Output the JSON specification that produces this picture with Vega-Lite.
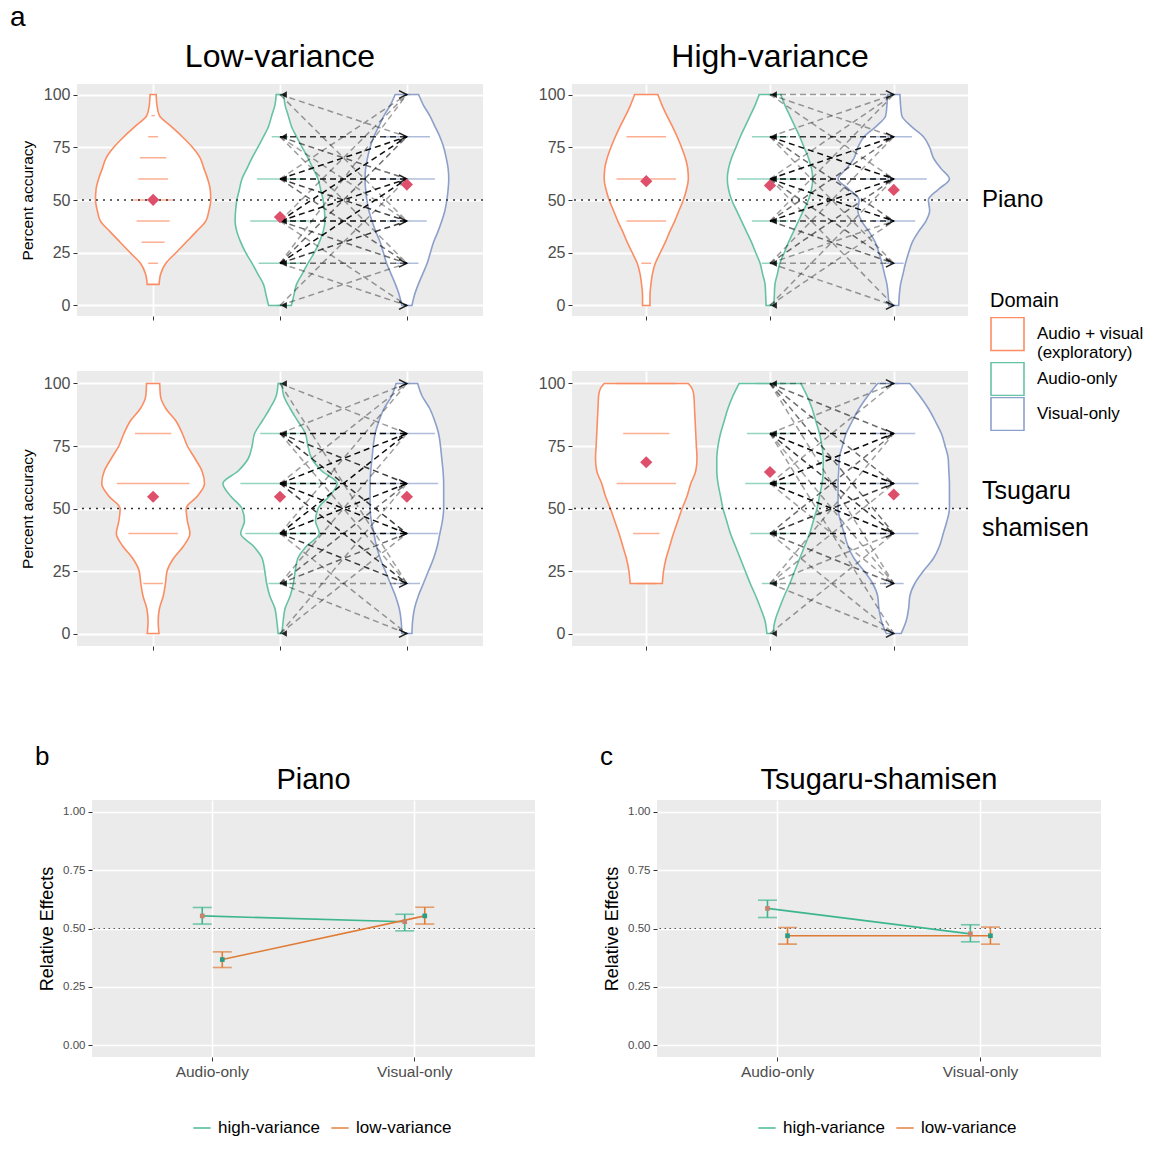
{
"$schema": "https://vega.github.io/schema/vega-lite/v6.json",
"padding": {"left": 10, "top": 4, "right": 0, "bottom": 0},
"datasets": {
"violin": [
{"p":"LP","d":"Audio + visual (exploratory)","y":10,"lo":0.953,"hi":1.047},
{"p":"LP","d":"Audio + visual (exploratory)","y":15,"lo":0.94,"hi":1.06},
{"p":"LP","d":"Audio + visual (exploratory)","y":20,"lo":0.9,"hi":1.1},
{"p":"LP","d":"Audio + visual (exploratory)","y":25,"lo":0.82,"hi":1.18},
{"p":"LP","d":"Audio + visual (exploratory)","y":30,"lo":0.74,"hi":1.26},
{"p":"LP","d":"Audio + visual (exploratory)","y":35,"lo":0.66,"hi":1.34},
{"p":"LP","d":"Audio + visual (exploratory)","y":40,"lo":0.585,"hi":1.415},
{"p":"LP","d":"Audio + visual (exploratory)","y":45,"lo":0.56,"hi":1.44},
{"p":"LP","d":"Audio + visual (exploratory)","y":50,"lo":0.546,"hi":1.454},
{"p":"LP","d":"Audio + visual (exploratory)","y":55,"lo":0.55,"hi":1.45},
{"p":"LP","d":"Audio + visual (exploratory)","y":60,"lo":0.57,"hi":1.43},
{"p":"LP","d":"Audio + visual (exploratory)","y":65,"lo":0.6,"hi":1.4},
{"p":"LP","d":"Audio + visual (exploratory)","y":70,"lo":0.63,"hi":1.37},
{"p":"LP","d":"Audio + visual (exploratory)","y":75,"lo":0.69,"hi":1.31},
{"p":"LP","d":"Audio + visual (exploratory)","y":80,"lo":0.77,"hi":1.23},
{"p":"LP","d":"Audio + visual (exploratory)","y":85,"lo":0.86,"hi":1.14},
{"p":"LP","d":"Audio + visual (exploratory)","y":90,"lo":0.95,"hi":1.05},
{"p":"LP","d":"Audio + visual (exploratory)","y":95,"lo":0.97,"hi":1.03},
{"p":"LP","d":"Audio + visual (exploratory)","y":100,"lo":0.976,"hi":1.024},
{"p":"LP","d":"Audio-only","y":0,"lo":1.91,"hi":2.09},
{"p":"LP","d":"Audio-only","y":5,"lo":1.89,"hi":2.11},
{"p":"LP","d":"Audio-only","y":10,"lo":1.87,"hi":2.13},
{"p":"LP","d":"Audio-only","y":15,"lo":1.825,"hi":2.175},
{"p":"LP","d":"Audio-only","y":20,"lo":1.78,"hi":2.22},
{"p":"LP","d":"Audio-only","y":25,"lo":1.73,"hi":2.27},
{"p":"LP","d":"Audio-only","y":30,"lo":1.69,"hi":2.31},
{"p":"LP","d":"Audio-only","y":35,"lo":1.66,"hi":2.34},
{"p":"LP","d":"Audio-only","y":40,"lo":1.646,"hi":2.354},
{"p":"LP","d":"Audio-only","y":45,"lo":1.65,"hi":2.35},
{"p":"LP","d":"Audio-only","y":50,"lo":1.66,"hi":2.34},
{"p":"LP","d":"Audio-only","y":55,"lo":1.68,"hi":2.32},
{"p":"LP","d":"Audio-only","y":60,"lo":1.7,"hi":2.3},
{"p":"LP","d":"Audio-only","y":65,"lo":1.74,"hi":2.26},
{"p":"LP","d":"Audio-only","y":70,"lo":1.78,"hi":2.22},
{"p":"LP","d":"Audio-only","y":75,"lo":1.825,"hi":2.175},
{"p":"LP","d":"Audio-only","y":80,"lo":1.87,"hi":2.13},
{"p":"LP","d":"Audio-only","y":85,"lo":1.91,"hi":2.09},
{"p":"LP","d":"Audio-only","y":90,"lo":1.935,"hi":2.065},
{"p":"LP","d":"Audio-only","y":95,"lo":1.96,"hi":2.04},
{"p":"LP","d":"Audio-only","y":100,"lo":1.97,"hi":2.03},
{"p":"LP","d":"Visual-only","y":0,"lo":2.96,"hi":3.04},
{"p":"LP","d":"Visual-only","y":5,"lo":2.94,"hi":3.06},
{"p":"LP","d":"Visual-only","y":10,"lo":2.91,"hi":3.09},
{"p":"LP","d":"Visual-only","y":15,"lo":2.875,"hi":3.125},
{"p":"LP","d":"Visual-only","y":20,"lo":2.84,"hi":3.16},
{"p":"LP","d":"Visual-only","y":25,"lo":2.815,"hi":3.185},
{"p":"LP","d":"Visual-only","y":30,"lo":2.79,"hi":3.21},
{"p":"LP","d":"Visual-only","y":35,"lo":2.755,"hi":3.245},
{"p":"LP","d":"Visual-only","y":40,"lo":2.725,"hi":3.275},
{"p":"LP","d":"Visual-only","y":45,"lo":2.7,"hi":3.3},
{"p":"LP","d":"Visual-only","y":50,"lo":2.685,"hi":3.315},
{"p":"LP","d":"Visual-only","y":55,"lo":2.675,"hi":3.325},
{"p":"LP","d":"Visual-only","y":60,"lo":2.67,"hi":3.33},
{"p":"LP","d":"Visual-only","y":65,"lo":2.675,"hi":3.325},
{"p":"LP","d":"Visual-only","y":70,"lo":2.69,"hi":3.31},
{"p":"LP","d":"Visual-only","y":75,"lo":2.71,"hi":3.29},
{"p":"LP","d":"Visual-only","y":80,"lo":2.74,"hi":3.26},
{"p":"LP","d":"Visual-only","y":85,"lo":2.78,"hi":3.22},
{"p":"LP","d":"Visual-only","y":90,"lo":2.82,"hi":3.18},
{"p":"LP","d":"Visual-only","y":95,"lo":2.87,"hi":3.13},
{"p":"LP","d":"Visual-only","y":100,"lo":2.908,"hi":3.092},
{"p":"HP","d":"Audio + visual (exploratory)","y":0,"lo":0.97,"hi":1.03},
{"p":"HP","d":"Audio + visual (exploratory)","y":5,"lo":0.97,"hi":1.03},
{"p":"HP","d":"Audio + visual (exploratory)","y":10,"lo":0.962,"hi":1.038},
{"p":"HP","d":"Audio + visual (exploratory)","y":15,"lo":0.95,"hi":1.05},
{"p":"HP","d":"Audio + visual (exploratory)","y":20,"lo":0.927,"hi":1.073},
{"p":"HP","d":"Audio + visual (exploratory)","y":25,"lo":0.887,"hi":1.113},
{"p":"HP","d":"Audio + visual (exploratory)","y":30,"lo":0.846,"hi":1.154},
{"p":"HP","d":"Audio + visual (exploratory)","y":35,"lo":0.81,"hi":1.19},
{"p":"HP","d":"Audio + visual (exploratory)","y":40,"lo":0.77,"hi":1.23},
{"p":"HP","d":"Audio + visual (exploratory)","y":45,"lo":0.735,"hi":1.265},
{"p":"HP","d":"Audio + visual (exploratory)","y":50,"lo":0.7,"hi":1.3},
{"p":"HP","d":"Audio + visual (exploratory)","y":55,"lo":0.675,"hi":1.325},
{"p":"HP","d":"Audio + visual (exploratory)","y":60,"lo":0.66,"hi":1.34},
{"p":"HP","d":"Audio + visual (exploratory)","y":65,"lo":0.665,"hi":1.335},
{"p":"HP","d":"Audio + visual (exploratory)","y":70,"lo":0.685,"hi":1.315},
{"p":"HP","d":"Audio + visual (exploratory)","y":75,"lo":0.715,"hi":1.285},
{"p":"HP","d":"Audio + visual (exploratory)","y":80,"lo":0.75,"hi":1.25},
{"p":"HP","d":"Audio + visual (exploratory)","y":85,"lo":0.79,"hi":1.21},
{"p":"HP","d":"Audio + visual (exploratory)","y":90,"lo":0.833,"hi":1.167},
{"p":"HP","d":"Audio + visual (exploratory)","y":95,"lo":0.873,"hi":1.127},
{"p":"HP","d":"Audio + visual (exploratory)","y":100,"lo":0.906,"hi":1.094},
{"p":"HP","d":"Audio-only","y":0,"lo":1.968,"hi":2.032},
{"p":"HP","d":"Audio-only","y":5,"lo":1.965,"hi":2.035},
{"p":"HP","d":"Audio-only","y":10,"lo":1.96,"hi":2.04},
{"p":"HP","d":"Audio-only","y":15,"lo":1.94,"hi":2.06},
{"p":"HP","d":"Audio-only","y":20,"lo":1.92,"hi":2.08},
{"p":"HP","d":"Audio-only","y":25,"lo":1.885,"hi":2.115},
{"p":"HP","d":"Audio-only","y":30,"lo":1.85,"hi":2.15},
{"p":"HP","d":"Audio-only","y":35,"lo":1.81,"hi":2.19},
{"p":"HP","d":"Audio-only","y":40,"lo":1.77,"hi":2.23},
{"p":"HP","d":"Audio-only","y":45,"lo":1.73,"hi":2.27},
{"p":"HP","d":"Audio-only","y":50,"lo":1.69,"hi":2.31},
{"p":"HP","d":"Audio-only","y":55,"lo":1.665,"hi":2.335},
{"p":"HP","d":"Audio-only","y":60,"lo":1.655,"hi":2.345},
{"p":"HP","d":"Audio-only","y":65,"lo":1.665,"hi":2.335},
{"p":"HP","d":"Audio-only","y":70,"lo":1.69,"hi":2.31},
{"p":"HP","d":"Audio-only","y":75,"lo":1.725,"hi":2.275},
{"p":"HP","d":"Audio-only","y":80,"lo":1.76,"hi":2.24},
{"p":"HP","d":"Audio-only","y":85,"lo":1.8,"hi":2.2},
{"p":"HP","d":"Audio-only","y":90,"lo":1.84,"hi":2.16},
{"p":"HP","d":"Audio-only","y":95,"lo":1.88,"hi":2.12},
{"p":"HP","d":"Audio-only","y":100,"lo":1.913,"hi":2.087},
{"p":"HP","d":"Visual-only","y":0,"lo":2.96,"hi":3.04},
{"p":"HP","d":"Visual-only","y":5,"lo":2.955,"hi":3.045},
{"p":"HP","d":"Visual-only","y":10,"lo":2.945,"hi":3.055},
{"p":"HP","d":"Visual-only","y":15,"lo":2.925,"hi":3.075},
{"p":"HP","d":"Visual-only","y":20,"lo":2.905,"hi":3.095},
{"p":"HP","d":"Visual-only","y":25,"lo":2.88,"hi":3.12},
{"p":"HP","d":"Visual-only","y":30,"lo":2.85,"hi":3.15},
{"p":"HP","d":"Visual-only","y":35,"lo":2.8,"hi":3.2},
{"p":"HP","d":"Visual-only","y":40,"lo":2.74,"hi":3.26},
{"p":"HP","d":"Visual-only","y":45,"lo":2.71,"hi":3.29},
{"p":"HP","d":"Visual-only","y":50,"lo":2.72,"hi":3.28},
{"p":"HP","d":"Visual-only","y":55,"lo":2.64,"hi":3.36},
{"p":"HP","d":"Visual-only","y":60,"lo":2.55,"hi":3.45},
{"p":"HP","d":"Visual-only","y":65,"lo":2.62,"hi":3.38},
{"p":"HP","d":"Visual-only","y":70,"lo":2.68,"hi":3.32},
{"p":"HP","d":"Visual-only","y":75,"lo":2.71,"hi":3.29},
{"p":"HP","d":"Visual-only","y":80,"lo":2.76,"hi":3.24},
{"p":"HP","d":"Visual-only","y":85,"lo":2.86,"hi":3.14},
{"p":"HP","d":"Visual-only","y":90,"lo":2.935,"hi":3.065},
{"p":"HP","d":"Visual-only","y":95,"lo":2.945,"hi":3.055},
{"p":"HP","d":"Visual-only","y":100,"lo":2.95,"hi":3.05},
{"p":"LT","d":"Audio + visual (exploratory)","y":0,"lo":0.954,"hi":1.046},
{"p":"LT","d":"Audio + visual (exploratory)","y":5,"lo":0.96,"hi":1.04},
{"p":"LT","d":"Audio + visual (exploratory)","y":10,"lo":0.95,"hi":1.05},
{"p":"LT","d":"Audio + visual (exploratory)","y":15,"lo":0.92,"hi":1.08},
{"p":"LT","d":"Audio + visual (exploratory)","y":20,"lo":0.903,"hi":1.097},
{"p":"LT","d":"Audio + visual (exploratory)","y":25,"lo":0.89,"hi":1.11},
{"p":"LT","d":"Audio + visual (exploratory)","y":30,"lo":0.84,"hi":1.16},
{"p":"LT","d":"Audio + visual (exploratory)","y":35,"lo":0.76,"hi":1.24},
{"p":"LT","d":"Audio + visual (exploratory)","y":40,"lo":0.71,"hi":1.29},
{"p":"LT","d":"Audio + visual (exploratory)","y":45,"lo":0.73,"hi":1.27},
{"p":"LT","d":"Audio + visual (exploratory)","y":50,"lo":0.74,"hi":1.26},
{"p":"LT","d":"Audio + visual (exploratory)","y":55,"lo":0.65,"hi":1.35},
{"p":"LT","d":"Audio + visual (exploratory)","y":60,"lo":0.595,"hi":1.405},
{"p":"LT","d":"Audio + visual (exploratory)","y":65,"lo":0.615,"hi":1.385},
{"p":"LT","d":"Audio + visual (exploratory)","y":70,"lo":0.67,"hi":1.33},
{"p":"LT","d":"Audio + visual (exploratory)","y":75,"lo":0.73,"hi":1.27},
{"p":"LT","d":"Audio + visual (exploratory)","y":80,"lo":0.77,"hi":1.23},
{"p":"LT","d":"Audio + visual (exploratory)","y":85,"lo":0.82,"hi":1.18},
{"p":"LT","d":"Audio + visual (exploratory)","y":90,"lo":0.9,"hi":1.1},
{"p":"LT","d":"Audio + visual (exploratory)","y":95,"lo":0.942,"hi":1.058},
{"p":"LT","d":"Audio + visual (exploratory)","y":100,"lo":0.948,"hi":1.052},
{"p":"LT","d":"Audio-only","y":0,"lo":1.985,"hi":2.015},
{"p":"LT","d":"Audio-only","y":5,"lo":1.975,"hi":2.025},
{"p":"LT","d":"Audio-only","y":10,"lo":1.96,"hi":2.04},
{"p":"LT","d":"Audio-only","y":15,"lo":1.92,"hi":2.08},
{"p":"LT","d":"Audio-only","y":20,"lo":1.895,"hi":2.105},
{"p":"LT","d":"Audio-only","y":25,"lo":1.88,"hi":2.12},
{"p":"LT","d":"Audio-only","y":30,"lo":1.86,"hi":2.14},
{"p":"LT","d":"Audio-only","y":35,"lo":1.79,"hi":2.21},
{"p":"LT","d":"Audio-only","y":40,"lo":1.69,"hi":2.31},
{"p":"LT","d":"Audio-only","y":45,"lo":1.72,"hi":2.28},
{"p":"LT","d":"Audio-only","y":50,"lo":1.7,"hi":2.3},
{"p":"LT","d":"Audio-only","y":55,"lo":1.61,"hi":2.39},
{"p":"LT","d":"Audio-only","y":60,"lo":1.55,"hi":2.45},
{"p":"LT","d":"Audio-only","y":65,"lo":1.67,"hi":2.33},
{"p":"LT","d":"Audio-only","y":70,"lo":1.75,"hi":2.25},
{"p":"LT","d":"Audio-only","y":75,"lo":1.78,"hi":2.22},
{"p":"LT","d":"Audio-only","y":80,"lo":1.8,"hi":2.2},
{"p":"LT","d":"Audio-only","y":85,"lo":1.86,"hi":2.14},
{"p":"LT","d":"Audio-only","y":90,"lo":1.92,"hi":2.08},
{"p":"LT","d":"Audio-only","y":95,"lo":1.97,"hi":2.03},
{"p":"LT","d":"Audio-only","y":100,"lo":1.985,"hi":2.015},
{"p":"LT","d":"Visual-only","y":0,"lo":2.96,"hi":3.04},
{"p":"LT","d":"Visual-only","y":5,"lo":2.955,"hi":3.045},
{"p":"LT","d":"Visual-only","y":10,"lo":2.94,"hi":3.06},
{"p":"LT","d":"Visual-only","y":15,"lo":2.91,"hi":3.09},
{"p":"LT","d":"Visual-only","y":20,"lo":2.87,"hi":3.13},
{"p":"LT","d":"Visual-only","y":25,"lo":2.83,"hi":3.17},
{"p":"LT","d":"Visual-only","y":30,"lo":2.79,"hi":3.21},
{"p":"LT","d":"Visual-only","y":35,"lo":2.76,"hi":3.24},
{"p":"LT","d":"Visual-only","y":40,"lo":2.74,"hi":3.26},
{"p":"LT","d":"Visual-only","y":45,"lo":2.72,"hi":3.28},
{"p":"LT","d":"Visual-only","y":50,"lo":2.71,"hi":3.29},
{"p":"LT","d":"Visual-only","y":55,"lo":2.71,"hi":3.29},
{"p":"LT","d":"Visual-only","y":60,"lo":2.71,"hi":3.29},
{"p":"LT","d":"Visual-only","y":65,"lo":2.715,"hi":3.285},
{"p":"LT","d":"Visual-only","y":70,"lo":2.725,"hi":3.275},
{"p":"LT","d":"Visual-only","y":75,"lo":2.735,"hi":3.265},
{"p":"LT","d":"Visual-only","y":80,"lo":2.75,"hi":3.25},
{"p":"LT","d":"Visual-only","y":85,"lo":2.78,"hi":3.22},
{"p":"LT","d":"Visual-only","y":90,"lo":2.82,"hi":3.18},
{"p":"LT","d":"Visual-only","y":95,"lo":2.88,"hi":3.12},
{"p":"LT","d":"Visual-only","y":100,"lo":2.915,"hi":3.085},
{"p":"HT","d":"Audio + visual (exploratory)","y":20,"lo":0.87,"hi":1.13},
{"p":"HT","d":"Audio + visual (exploratory)","y":25,"lo":0.86,"hi":1.14},
{"p":"HT","d":"Audio + visual (exploratory)","y":30,"lo":0.84,"hi":1.16},
{"p":"HT","d":"Audio + visual (exploratory)","y":35,"lo":0.81,"hi":1.19},
{"p":"HT","d":"Audio + visual (exploratory)","y":40,"lo":0.78,"hi":1.22},
{"p":"HT","d":"Audio + visual (exploratory)","y":45,"lo":0.745,"hi":1.255},
{"p":"HT","d":"Audio + visual (exploratory)","y":50,"lo":0.71,"hi":1.29},
{"p":"HT","d":"Audio + visual (exploratory)","y":55,"lo":0.67,"hi":1.33},
{"p":"HT","d":"Audio + visual (exploratory)","y":60,"lo":0.64,"hi":1.36},
{"p":"HT","d":"Audio + visual (exploratory)","y":65,"lo":0.6,"hi":1.4},
{"p":"HT","d":"Audio + visual (exploratory)","y":70,"lo":0.59,"hi":1.41},
{"p":"HT","d":"Audio + visual (exploratory)","y":75,"lo":0.595,"hi":1.405},
{"p":"HT","d":"Audio + visual (exploratory)","y":80,"lo":0.6,"hi":1.4},
{"p":"HT","d":"Audio + visual (exploratory)","y":85,"lo":0.605,"hi":1.395},
{"p":"HT","d":"Audio + visual (exploratory)","y":90,"lo":0.61,"hi":1.39},
{"p":"HT","d":"Audio + visual (exploratory)","y":95,"lo":0.615,"hi":1.385},
{"p":"HT","d":"Audio + visual (exploratory)","y":98,"lo":0.63,"hi":1.37},
{"p":"HT","d":"Audio + visual (exploratory)","y":100,"lo":0.66,"hi":1.34},
{"p":"HT","d":"Audio-only","y":0,"lo":1.975,"hi":2.025},
{"p":"HT","d":"Audio-only","y":5,"lo":1.96,"hi":2.04},
{"p":"HT","d":"Audio-only","y":10,"lo":1.925,"hi":2.075},
{"p":"HT","d":"Audio-only","y":15,"lo":1.885,"hi":2.115},
{"p":"HT","d":"Audio-only","y":20,"lo":1.84,"hi":2.16},
{"p":"HT","d":"Audio-only","y":25,"lo":1.8,"hi":2.2},
{"p":"HT","d":"Audio-only","y":30,"lo":1.76,"hi":2.24},
{"p":"HT","d":"Audio-only","y":35,"lo":1.72,"hi":2.28},
{"p":"HT","d":"Audio-only","y":40,"lo":1.68,"hi":2.32},
{"p":"HT","d":"Audio-only","y":45,"lo":1.65,"hi":2.35},
{"p":"HT","d":"Audio-only","y":50,"lo":1.62,"hi":2.38},
{"p":"HT","d":"Audio-only","y":55,"lo":1.6,"hi":2.4},
{"p":"HT","d":"Audio-only","y":60,"lo":1.58,"hi":2.42},
{"p":"HT","d":"Audio-only","y":65,"lo":1.57,"hi":2.43},
{"p":"HT","d":"Audio-only","y":70,"lo":1.57,"hi":2.43},
{"p":"HT","d":"Audio-only","y":75,"lo":1.58,"hi":2.42},
{"p":"HT","d":"Audio-only","y":80,"lo":1.6,"hi":2.4},
{"p":"HT","d":"Audio-only","y":85,"lo":1.63,"hi":2.37},
{"p":"HT","d":"Audio-only","y":90,"lo":1.66,"hi":2.34},
{"p":"HT","d":"Audio-only","y":95,"lo":1.7,"hi":2.3},
{"p":"HT","d":"Audio-only","y":100,"lo":1.75,"hi":2.25},
{"p":"HT","d":"Visual-only","y":0,"lo":2.94,"hi":3.06},
{"p":"HT","d":"Visual-only","y":5,"lo":2.9,"hi":3.1},
{"p":"HT","d":"Visual-only","y":10,"lo":2.88,"hi":3.12},
{"p":"HT","d":"Visual-only","y":15,"lo":2.87,"hi":3.13},
{"p":"HT","d":"Visual-only","y":20,"lo":2.83,"hi":3.17},
{"p":"HT","d":"Visual-only","y":25,"lo":2.76,"hi":3.24},
{"p":"HT","d":"Visual-only","y":30,"lo":2.68,"hi":3.32},
{"p":"HT","d":"Visual-only","y":35,"lo":2.63,"hi":3.37},
{"p":"HT","d":"Visual-only","y":40,"lo":2.6,"hi":3.4},
{"p":"HT","d":"Visual-only","y":45,"lo":2.57,"hi":3.43},
{"p":"HT","d":"Visual-only","y":50,"lo":2.55,"hi":3.45},
{"p":"HT","d":"Visual-only","y":55,"lo":2.55,"hi":3.45},
{"p":"HT","d":"Visual-only","y":60,"lo":2.55,"hi":3.45},
{"p":"HT","d":"Visual-only","y":65,"lo":2.555,"hi":3.445},
{"p":"HT","d":"Visual-only","y":70,"lo":2.56,"hi":3.44},
{"p":"HT","d":"Visual-only","y":75,"lo":2.585,"hi":3.415},
{"p":"HT","d":"Visual-only","y":80,"lo":2.615,"hi":3.385},
{"p":"HT","d":"Visual-only","y":85,"lo":2.665,"hi":3.335},
{"p":"HT","d":"Visual-only","y":90,"lo":2.72,"hi":3.28},
{"p":"HT","d":"Visual-only","y":95,"lo":2.79,"hi":3.21},
{"p":"HT","d":"Visual-only","y":100,"lo":2.87,"hi":3.13}
],
"dash": [
{"p":"LP","d":"Audio + visual (exploratory)","y":20,"n":3},
{"p":"LP","d":"Audio + visual (exploratory)","y":30,"n":7},
{"p":"LP","d":"Audio + visual (exploratory)","y":40,"n":10},
{"p":"LP","d":"Audio + visual (exploratory)","y":50,"n":12},
{"p":"LP","d":"Audio + visual (exploratory)","y":60,"n":9},
{"p":"LP","d":"Audio + visual (exploratory)","y":70,"n":8},
{"p":"LP","d":"Audio + visual (exploratory)","y":80,"n":3},
{"p":"LP","d":"Audio + visual (exploratory)","y":90,"n":1},
{"p":"LP","d":"Audio-only","y":0,"n":2},
{"p":"LP","d":"Audio-only","y":20,"n":13},
{"p":"LP","d":"Audio-only","y":40,"n":18},
{"p":"LP","d":"Audio-only","y":60,"n":14},
{"p":"LP","d":"Audio-only","y":80,"n":5},
{"p":"LP","d":"Audio-only","y":100,"n":1},
{"p":"LP","d":"Visual-only","y":0,"n":1},
{"p":"LP","d":"Visual-only","y":20,"n":7},
{"p":"LP","d":"Visual-only","y":40,"n":12},
{"p":"LP","d":"Visual-only","y":60,"n":17},
{"p":"LP","d":"Visual-only","y":80,"n":14},
{"p":"LP","d":"Visual-only","y":100,"n":2},
{"p":"HP","d":"Audio + visual (exploratory)","y":20,"n":3},
{"p":"HP","d":"Audio + visual (exploratory)","y":40,"n":12},
{"p":"HP","d":"Audio + visual (exploratory)","y":60,"n":18},
{"p":"HP","d":"Audio + visual (exploratory)","y":80,"n":12},
{"p":"HP","d":"Audio-only","y":0,"n":1},
{"p":"HP","d":"Audio-only","y":20,"n":5},
{"p":"HP","d":"Audio-only","y":40,"n":11},
{"p":"HP","d":"Audio-only","y":60,"n":20},
{"p":"HP","d":"Audio-only","y":80,"n":11},
{"p":"HP","d":"Audio-only","y":100,"n":1},
{"p":"HP","d":"Visual-only","y":0,"n":1},
{"p":"HP","d":"Visual-only","y":20,"n":6},
{"p":"HP","d":"Visual-only","y":40,"n":13},
{"p":"HP","d":"Visual-only","y":60,"n":20},
{"p":"HP","d":"Visual-only","y":80,"n":11},
{"p":"HP","d":"Visual-only","y":100,"n":1},
{"p":"LT","d":"Audio + visual (exploratory)","y":20,"n":6},
{"p":"LT","d":"Audio + visual (exploratory)","y":40,"n":15},
{"p":"LT","d":"Audio + visual (exploratory)","y":60,"n":22},
{"p":"LT","d":"Audio + visual (exploratory)","y":80,"n":11},
{"p":"LT","d":"Audio-only","y":0,"n":1},
{"p":"LT","d":"Audio-only","y":20,"n":7},
{"p":"LT","d":"Audio-only","y":40,"n":21},
{"p":"LT","d":"Audio-only","y":60,"n":24},
{"p":"LT","d":"Audio-only","y":80,"n":12},
{"p":"LT","d":"Audio-only","y":100,"n":1},
{"p":"LT","d":"Visual-only","y":0,"n":1},
{"p":"LT","d":"Visual-only","y":20,"n":8},
{"p":"LT","d":"Visual-only","y":40,"n":19},
{"p":"LT","d":"Visual-only","y":60,"n":19},
{"p":"LT","d":"Visual-only","y":80,"n":17},
{"p":"LT","d":"Visual-only","y":100,"n":2},
{"p":"HT","d":"Audio + visual (exploratory)","y":20,"n":6},
{"p":"HT","d":"Audio + visual (exploratory)","y":40,"n":8},
{"p":"HT","d":"Audio + visual (exploratory)","y":60,"n":18},
{"p":"HT","d":"Audio + visual (exploratory)","y":80,"n":14},
{"p":"HT","d":"Audio + visual (exploratory)","y":100,"n":18},
{"p":"HT","d":"Audio-only","y":20,"n":5},
{"p":"HT","d":"Audio-only","y":40,"n":12},
{"p":"HT","d":"Audio-only","y":60,"n":15},
{"p":"HT","d":"Audio-only","y":80,"n":14},
{"p":"HT","d":"Audio-only","y":100,"n":8},
{"p":"HT","d":"Visual-only","y":0,"n":1},
{"p":"HT","d":"Visual-only","y":20,"n":6},
{"p":"HT","d":"Visual-only","y":40,"n":15},
{"p":"HT","d":"Visual-only","y":60,"n":15},
{"p":"HT","d":"Visual-only","y":80,"n":13},
{"p":"HT","d":"Visual-only","y":100,"n":3}
],
"means": [
{"p":"LP","d":"Audio + visual (exploratory)","y":50.1},
{"p":"LP","d":"Audio-only","y":41.9},
{"p":"LP","d":"Visual-only","y":57.3},
{"p":"HP","d":"Audio + visual (exploratory)","y":58.9},
{"p":"HP","d":"Audio-only","y":56.9},
{"p":"HP","d":"Visual-only","y":54.8},
{"p":"LT","d":"Audio + visual (exploratory)","y":54.7},
{"p":"LT","d":"Audio-only","y":54.7},
{"p":"LT","d":"Visual-only","y":54.7},
{"p":"HT","d":"Audio + visual (exploratory)","y":68.5},
{"p":"HT","d":"Audio-only","y":64.6},
{"p":"HT","d":"Visual-only","y":55.6}
],
"pairs": [
{"p":"LP","a":0,"v":20,"n":1},{"p":"LP","a":0,"v":60,"n":1},
{"p":"LP","a":20,"v":0,"n":1},{"p":"LP","a":20,"v":20,"n":2},{"p":"LP","a":20,"v":40,"n":3},{"p":"LP","a":20,"v":60,"n":4},{"p":"LP","a":20,"v":80,"n":2},{"p":"LP","a":20,"v":100,"n":1},
{"p":"LP","a":40,"v":0,"n":1},{"p":"LP","a":40,"v":20,"n":2},{"p":"LP","a":40,"v":40,"n":4},{"p":"LP","a":40,"v":60,"n":5},{"p":"LP","a":40,"v":80,"n":5},{"p":"LP","a":40,"v":100,"n":1},
{"p":"LP","a":60,"v":20,"n":2},{"p":"LP","a":60,"v":40,"n":3},{"p":"LP","a":60,"v":60,"n":4},{"p":"LP","a":60,"v":80,"n":4},{"p":"LP","a":60,"v":100,"n":1},
{"p":"LP","a":80,"v":20,"n":1},{"p":"LP","a":80,"v":40,"n":1},{"p":"LP","a":80,"v":60,"n":2},{"p":"LP","a":80,"v":80,"n":3},
{"p":"LP","a":100,"v":40,"n":1},{"p":"LP","a":100,"v":80,"n":1},
{"p":"HP","a":0,"v":40,"n":1},{"p":"HP","a":0,"v":60,"n":1},
{"p":"HP","a":20,"v":0,"n":1},{"p":"HP","a":20,"v":20,"n":1},{"p":"HP","a":20,"v":40,"n":1},{"p":"HP","a":20,"v":60,"n":2},{"p":"HP","a":20,"v":80,"n":1},
{"p":"HP","a":40,"v":20,"n":2},{"p":"HP","a":40,"v":40,"n":3},{"p":"HP","a":40,"v":60,"n":4},{"p":"HP","a":40,"v":80,"n":2},{"p":"HP","a":40,"v":100,"n":1},
{"p":"HP","a":60,"v":0,"n":1},{"p":"HP","a":60,"v":20,"n":2},{"p":"HP","a":60,"v":40,"n":4},{"p":"HP","a":60,"v":60,"n":7},{"p":"HP","a":60,"v":80,"n":4},{"p":"HP","a":60,"v":100,"n":1},
{"p":"HP","a":80,"v":20,"n":1},{"p":"HP","a":80,"v":40,"n":2},{"p":"HP","a":80,"v":60,"n":4},{"p":"HP","a":80,"v":80,"n":3},{"p":"HP","a":80,"v":100,"n":1},
{"p":"HP","a":100,"v":60,"n":1},{"p":"HP","a":100,"v":80,"n":1},{"p":"HP","a":100,"v":100,"n":1},
{"p":"LT","a":0,"v":40,"n":1},{"p":"LT","a":0,"v":60,"n":1},
{"p":"LT","a":20,"v":0,"n":1},{"p":"LT","a":20,"v":20,"n":1},{"p":"LT","a":20,"v":40,"n":2},{"p":"LT","a":20,"v":60,"n":2},{"p":"LT","a":20,"v":80,"n":1},
{"p":"LT","a":40,"v":0,"n":1},{"p":"LT","a":40,"v":20,"n":3},{"p":"LT","a":40,"v":40,"n":5},{"p":"LT","a":40,"v":60,"n":5},{"p":"LT","a":40,"v":80,"n":4},{"p":"LT","a":40,"v":100,"n":1},
{"p":"LT","a":60,"v":20,"n":3},{"p":"LT","a":60,"v":40,"n":6},{"p":"LT","a":60,"v":60,"n":6},{"p":"LT","a":60,"v":80,"n":5},{"p":"LT","a":60,"v":100,"n":1},
{"p":"LT","a":80,"v":20,"n":1},{"p":"LT","a":80,"v":40,"n":3},{"p":"LT","a":80,"v":60,"n":3},{"p":"LT","a":80,"v":80,"n":4},{"p":"LT","a":80,"v":100,"n":1},
{"p":"LT","a":100,"v":20,"n":1},{"p":"LT","a":100,"v":80,"n":1},
{"p":"HT","a":0,"v":40,"n":1},
{"p":"HT","a":20,"v":0,"n":1},{"p":"HT","a":20,"v":20,"n":1},{"p":"HT","a":20,"v":40,"n":1},{"p":"HT","a":20,"v":60,"n":1},{"p":"HT","a":20,"v":80,"n":1},
{"p":"HT","a":40,"v":0,"n":1},{"p":"HT","a":40,"v":20,"n":2},{"p":"HT","a":40,"v":40,"n":4},{"p":"HT","a":40,"v":60,"n":3},{"p":"HT","a":40,"v":80,"n":2},
{"p":"HT","a":60,"v":20,"n":1},{"p":"HT","a":60,"v":40,"n":4},{"p":"HT","a":60,"v":60,"n":5},{"p":"HT","a":60,"v":80,"n":4},{"p":"HT","a":60,"v":100,"n":1},
{"p":"HT","a":80,"v":0,"n":1},{"p":"HT","a":80,"v":20,"n":1},{"p":"HT","a":80,"v":40,"n":3},{"p":"HT","a":80,"v":60,"n":4},{"p":"HT","a":80,"v":80,"n":4},{"p":"HT","a":80,"v":100,"n":1},
{"p":"HT","a":100,"v":20,"n":1},{"p":"HT","a":100,"v":40,"n":2},{"p":"HT","a":100,"v":60,"n":2},{"p":"HT","a":100,"v":80,"n":2},{"p":"HT","a":100,"v":100,"n":1}
],
"effects": [
{"inst":"Piano","g":"high-variance","cond":"Audio-only","m":0.554,"lo":0.519,"hi":0.59},
{"inst":"Piano","g":"high-variance","cond":"Visual-only","m":0.529,"lo":0.49,"hi":0.561},
{"inst":"Piano","g":"low-variance","cond":"Audio-only","m":0.367,"lo":0.333,"hi":0.4},
{"inst":"Piano","g":"low-variance","cond":"Visual-only","m":0.554,"lo":0.519,"hi":0.591},
{"inst":"Tsugaru-shamisen","g":"high-variance","cond":"Audio-only","m":0.586,"lo":0.547,"hi":0.621},
{"inst":"Tsugaru-shamisen","g":"high-variance","cond":"Visual-only","m":0.477,"lo":0.443,"hi":0.516},
{"inst":"Tsugaru-shamisen","g":"low-variance","cond":"Audio-only","m":0.469,"lo":0.433,"hi":0.504},
{"inst":"Tsugaru-shamisen","g":"low-variance","cond":"Visual-only","m":0.469,"lo":0.433,"hi":0.506}
]
},
"vconcat": [
{
"title": {"text": "a", "anchor": "start", "fontSize": 28, "offset": 9, "dx": -10},
"columns": 4, "bounds": "flush", "align": "each", "spacing": {"row": 55, "column": 13},
"concat": [
{
"width": 406, "height": 232,
"title": {"text": "Low-variance", "fontSize": 32, "offset": 10},
"layer": [
{"data": {"name": "violin"}, "transform": [{"filter": "datum.p == 'LP'"}],
 "mark": {"type": "area", "orient": "horizontal", "fill": "white", "strokeWidth": 1.6, "interpolate": "monotone"},
 "encoding": {
  "y": {"field": "y", "type": "quantitative", "scale": {"domain": [-5, 105], "nice": false, "zero": false},
        "axis": {"values": [0, 12.5, 25, 37.5, 50, 62.5, 75, 87.5, 100], "labelExpr": "datum.value % 25 == 0 ? datum.label : ''", "grid": true, "gridWidth": {"condition": {"test": "datum.value % 25 != 0", "value": 0.8}, "value": 1.8}, "tickOpacity": {"condition": {"test": "datum.value % 25 != 0", "value": 0}, "value": 1}, "tickSize": 4, "labelFontSize": 16, "labelPadding": 3, "labelOverlap": false, "title": "Percent accuracy", "titleFontSize": 15.5, "titlePadding": 7, "minExtent": 35, "maxExtent": 35}},
  "x": {"field": "lo", "type": "quantitative", "scale": {"domain": [0.4, 3.6], "nice": false, "zero": false},
        "axis": {"values": [1, 2, 3], "labels": false, "grid": true, "gridWidth": 1.8, "tickSize": 4, "title": null}},
  "x2": {"field": "hi"},
  "stroke": {"field": "d", "type": "nominal", "scale": {"domain": ["Audio + visual (exploratory)", "Audio-only", "Visual-only"], "range": ["#fc8d62", "#66c2a5", "#8da0cb"]},
    "legend": {"title": "Domain", "orient": "none", "legendX": 913, "legendY": 207, "titleFontSize": 20, "titleFontWeight": "normal", "titleColor": "black", "titlePadding": 6, "labelFontSize": 17, "labelColor": "black", "labelLimit": 300, "labelOffset": 12, "symbolType": "square", "symbolSize": 1089, "symbolStrokeWidth": 1.6, "symbolFillColor": "white", "rowPadding": 1, "clipHeight": 34, "labelExpr": "datum.label == 'Audio + visual (exploratory)' ? ['Audio + visual', '(exploratory)'] : datum.label"}}
 }},
{"data": {"name": "dash"}, "transform": [{"filter": "datum.p == 'LP' && datum.d == 'Audio + visual (exploratory)'"}], "mark": {"type": "tick", "orient": "horizontal", "thickness": 1.5, "color": "#fc8d62"}, "encoding": {"x": {"datum": 1}, "y": {"field": "y", "type": "quantitative"}, "size": {"field": "n", "type": "quantitative", "scale": {"domain": [0, 20], "range": [0, 66]}, "legend": null}}},
{"data": {"name": "dash"}, "transform": [{"filter": "datum.p == 'LP' && datum.d == 'Audio-only'"}], "mark": {"type": "tick", "orient": "horizontal", "thickness": 1.5, "color": "#66c2a5"}, "encoding": {"x": {"datum": 2}, "y": {"field": "y", "type": "quantitative"}, "size": {"field": "n", "type": "quantitative", "scale": {"domain": [0, 20], "range": [0, 66]}, "legend": null}}},
{"data": {"name": "dash"}, "transform": [{"filter": "datum.p == 'LP' && datum.d == 'Visual-only'"}], "mark": {"type": "tick", "orient": "horizontal", "thickness": 1.5, "color": "#8da0cb"}, "encoding": {"x": {"datum": 3}, "y": {"field": "y", "type": "quantitative"}, "size": {"field": "n", "type": "quantitative", "scale": {"domain": [0, 20], "range": [0, 66]}, "legend": null}}},
{"data": {"values": [{"chance": 50}]}, "mark": {"type": "rule", "strokeDash": [2, 5], "color": "#333333", "strokeWidth": 1.5}, "encoding": {"y": {"field": "chance", "type": "quantitative"}}},
{"data": {"name": "pairs"}, "transform": [{"filter": "datum.p == 'LP'"}], "mark": {"type": "rule", "strokeDash": [6, 4], "strokeWidth": 1.5, "color": "black"}, "encoding": {"x": {"datum": 2}, "x2": {"datum": 3}, "y": {"field": "a", "type": "quantitative"}, "y2": {"field": "v"}, "opacity": {"field": "n", "type": "quantitative", "scale": {"domain": [1, 4], "range": [0.38, 0.95], "clamp": true}, "legend": null}}},
{"data": {"name": "pairs"}, "transform": [{"filter": "datum.p == 'LP'"}, {"aggregate": [{"op": "sum", "field": "n", "as": "tot"}], "groupby": ["a"]}], "mark": {"type": "point", "shape": "triangle-left", "filled": true, "color": "black", "size": 45, "opacity": 0.85, "xOffset": 4}, "encoding": {"x": {"datum": 2}, "y": {"field": "a", "type": "quantitative"}}},
{"data": {"name": "pairs"}, "transform": [{"filter": "datum.p == 'LP'"}, {"aggregate": [{"op": "sum", "field": "n", "as": "tot"}], "groupby": ["v"]}], "mark": {"type": "point", "shape": "M -1 -1 L 1 0 L -1 1", "filled": false, "color": "black", "strokeWidth": 1.5, "size": 60, "opacity": 0.85, "xOffset": -4}, "encoding": {"x": {"datum": 3}, "y": {"field": "v", "type": "quantitative"}}},
{"data": {"name": "means"}, "transform": [{"filter": "datum.p == 'LP' && datum.d == 'Audio + visual (exploratory)'"}], "mark": {"type": "point", "shape": "diamond", "filled": true, "color": "#de4f6b", "size": 150, "opacity": 1}, "encoding": {"x": {"datum": 1}, "y": {"field": "y", "type": "quantitative"}}},
{"data": {"name": "means"}, "transform": [{"filter": "datum.p == 'LP' && datum.d == 'Audio-only'"}], "mark": {"type": "point", "shape": "diamond", "filled": true, "color": "#de4f6b", "size": 150, "opacity": 1}, "encoding": {"x": {"datum": 2}, "y": {"field": "y", "type": "quantitative"}}},
{"data": {"name": "means"}, "transform": [{"filter": "datum.p == 'LP' && datum.d == 'Visual-only'"}], "mark": {"type": "point", "shape": "diamond", "filled": true, "color": "#de4f6b", "size": 150, "opacity": 1}, "encoding": {"x": {"datum": 3}, "y": {"field": "y", "type": "quantitative"}}}
]
},
{"width": 63, "height": 232, "data": {"values": []}, "mark": "point", "view": {"fill": null, "stroke": null}},
{
"width": 396, "height": 232,
"title": {"text": "High-variance", "fontSize": 32, "offset": 10},
"layer": [
{"data": {"name": "violin"}, "transform": [{"filter": "datum.p == 'HP'"}],
 "mark": {"type": "area", "orient": "horizontal", "fill": "white", "strokeWidth": 1.6, "interpolate": "monotone"},
 "encoding": {
  "y": {"field": "y", "type": "quantitative", "scale": {"domain": [-5, 105], "nice": false, "zero": false},
        "axis": {"values": [0, 12.5, 25, 37.5, 50, 62.5, 75, 87.5, 100], "labelExpr": "datum.value % 25 == 0 ? datum.label : ''", "grid": true, "gridWidth": {"condition": {"test": "datum.value % 25 != 0", "value": 0.8}, "value": 1.8}, "tickOpacity": {"condition": {"test": "datum.value % 25 != 0", "value": 0}, "value": 1}, "tickSize": 4, "labelFontSize": 16, "labelPadding": 3, "labelOverlap": false, "title": null}},
  "x": {"field": "lo", "type": "quantitative", "scale": {"domain": [0.4, 3.6], "nice": false, "zero": false},
        "axis": {"values": [1, 2, 3], "labels": false, "grid": true, "gridWidth": 1.8, "tickSize": 4, "title": null}},
  "x2": {"field": "hi"},
  "stroke": {"field": "d", "type": "nominal", "scale": {"domain": ["Audio + visual (exploratory)", "Audio-only", "Visual-only"], "range": ["#fc8d62", "#66c2a5", "#8da0cb"]}}
 }},
{"data": {"name": "dash"}, "transform": [{"filter": "datum.p == 'HP' && datum.d == 'Audio + visual (exploratory)'"}], "mark": {"type": "tick", "orient": "horizontal", "thickness": 1.5, "color": "#fc8d62"}, "encoding": {"x": {"datum": 1}, "y": {"field": "y", "type": "quantitative"}, "size": {"field": "n", "type": "quantitative", "scale": {"domain": [0, 20], "range": [0, 66]}, "legend": null}}},
{"data": {"name": "dash"}, "transform": [{"filter": "datum.p == 'HP' && datum.d == 'Audio-only'"}], "mark": {"type": "tick", "orient": "horizontal", "thickness": 1.5, "color": "#66c2a5"}, "encoding": {"x": {"datum": 2}, "y": {"field": "y", "type": "quantitative"}, "size": {"field": "n", "type": "quantitative", "scale": {"domain": [0, 20], "range": [0, 66]}, "legend": null}}},
{"data": {"name": "dash"}, "transform": [{"filter": "datum.p == 'HP' && datum.d == 'Visual-only'"}], "mark": {"type": "tick", "orient": "horizontal", "thickness": 1.5, "color": "#8da0cb"}, "encoding": {"x": {"datum": 3}, "y": {"field": "y", "type": "quantitative"}, "size": {"field": "n", "type": "quantitative", "scale": {"domain": [0, 20], "range": [0, 66]}, "legend": null}}},
{"data": {"values": [{"chance": 50}]}, "mark": {"type": "rule", "strokeDash": [2, 5], "color": "#333333", "strokeWidth": 1.5}, "encoding": {"y": {"field": "chance", "type": "quantitative"}}},
{"data": {"name": "pairs"}, "transform": [{"filter": "datum.p == 'HP'"}], "mark": {"type": "rule", "strokeDash": [6, 4], "strokeWidth": 1.5, "color": "black"}, "encoding": {"x": {"datum": 2}, "x2": {"datum": 3}, "y": {"field": "a", "type": "quantitative"}, "y2": {"field": "v"}, "opacity": {"field": "n", "type": "quantitative", "scale": {"domain": [1, 4], "range": [0.38, 0.95], "clamp": true}, "legend": null}}},
{"data": {"name": "pairs"}, "transform": [{"filter": "datum.p == 'HP'"}, {"aggregate": [{"op": "sum", "field": "n", "as": "tot"}], "groupby": ["a"]}], "mark": {"type": "point", "shape": "triangle-left", "filled": true, "color": "black", "size": 45, "opacity": 0.85, "xOffset": 4}, "encoding": {"x": {"datum": 2}, "y": {"field": "a", "type": "quantitative"}}},
{"data": {"name": "pairs"}, "transform": [{"filter": "datum.p == 'HP'"}, {"aggregate": [{"op": "sum", "field": "n", "as": "tot"}], "groupby": ["v"]}], "mark": {"type": "point", "shape": "M -1 -1 L 1 0 L -1 1", "filled": false, "color": "black", "strokeWidth": 1.5, "size": 60, "opacity": 0.85, "xOffset": -4}, "encoding": {"x": {"datum": 3}, "y": {"field": "v", "type": "quantitative"}}},
{"data": {"name": "means"}, "transform": [{"filter": "datum.p == 'HP' && datum.d == 'Audio + visual (exploratory)'"}], "mark": {"type": "point", "shape": "diamond", "filled": true, "color": "#de4f6b", "size": 150, "opacity": 1}, "encoding": {"x": {"datum": 1}, "y": {"field": "y", "type": "quantitative"}}},
{"data": {"name": "means"}, "transform": [{"filter": "datum.p == 'HP' && datum.d == 'Audio-only'"}], "mark": {"type": "point", "shape": "diamond", "filled": true, "color": "#de4f6b", "size": 150, "opacity": 1}, "encoding": {"x": {"datum": 2}, "y": {"field": "y", "type": "quantitative"}}},
{"data": {"name": "means"}, "transform": [{"filter": "datum.p == 'HP' && datum.d == 'Visual-only'"}], "mark": {"type": "point", "shape": "diamond", "filled": true, "color": "#de4f6b", "size": 150, "opacity": 1}, "encoding": {"x": {"datum": 3}, "y": {"field": "y", "type": "quantitative"}}}
]
},
{"width": 2, "height": 232, "data": {"values": [{"instrument": "Piano"}]}, "mark": {"type": "text", "align": "left", "baseline": "middle", "fontSize": 24, "color": "black"}, "encoding": {"text": {"field": "instrument"}}, "view": {"fill": null, "stroke": null}},
{
"width": 406, "height": 275,
"layer": [
{"data": {"name": "violin"}, "transform": [{"filter": "datum.p == 'LT'"}],
 "mark": {"type": "area", "orient": "horizontal", "fill": "white", "strokeWidth": 1.6, "interpolate": "monotone"},
 "encoding": {
  "y": {"field": "y", "type": "quantitative", "scale": {"domain": [-5, 105], "nice": false, "zero": false},
        "axis": {"values": [0, 12.5, 25, 37.5, 50, 62.5, 75, 87.5, 100], "labelExpr": "datum.value % 25 == 0 ? datum.label : ''", "grid": true, "gridWidth": {"condition": {"test": "datum.value % 25 != 0", "value": 0.8}, "value": 1.8}, "tickOpacity": {"condition": {"test": "datum.value % 25 != 0", "value": 0}, "value": 1}, "tickSize": 4, "labelFontSize": 16, "labelPadding": 3, "labelOverlap": false, "title": "Percent accuracy", "titleFontSize": 15.5, "titlePadding": 7, "minExtent": 35, "maxExtent": 35}},
  "x": {"field": "lo", "type": "quantitative", "scale": {"domain": [0.4, 3.6], "nice": false, "zero": false},
        "axis": {"values": [1, 2, 3], "labels": false, "grid": true, "gridWidth": 1.8, "tickSize": 4, "title": null}},
  "x2": {"field": "hi"},
  "stroke": {"field": "d", "type": "nominal", "scale": {"domain": ["Audio + visual (exploratory)", "Audio-only", "Visual-only"], "range": ["#fc8d62", "#66c2a5", "#8da0cb"]}}
 }},
{"data": {"name": "dash"}, "transform": [{"filter": "datum.p == 'LT' && datum.d == 'Audio + visual (exploratory)'"}], "mark": {"type": "tick", "orient": "horizontal", "thickness": 1.5, "color": "#fc8d62"}, "encoding": {"x": {"datum": 1}, "y": {"field": "y", "type": "quantitative"}, "size": {"field": "n", "type": "quantitative", "scale": {"domain": [0, 20], "range": [0, 66]}, "legend": null}}},
{"data": {"name": "dash"}, "transform": [{"filter": "datum.p == 'LT' && datum.d == 'Audio-only'"}], "mark": {"type": "tick", "orient": "horizontal", "thickness": 1.5, "color": "#66c2a5"}, "encoding": {"x": {"datum": 2}, "y": {"field": "y", "type": "quantitative"}, "size": {"field": "n", "type": "quantitative", "scale": {"domain": [0, 20], "range": [0, 66]}, "legend": null}}},
{"data": {"name": "dash"}, "transform": [{"filter": "datum.p == 'LT' && datum.d == 'Visual-only'"}], "mark": {"type": "tick", "orient": "horizontal", "thickness": 1.5, "color": "#8da0cb"}, "encoding": {"x": {"datum": 3}, "y": {"field": "y", "type": "quantitative"}, "size": {"field": "n", "type": "quantitative", "scale": {"domain": [0, 20], "range": [0, 66]}, "legend": null}}},
{"data": {"values": [{"chance": 50}]}, "mark": {"type": "rule", "strokeDash": [2, 5], "color": "#333333", "strokeWidth": 1.5}, "encoding": {"y": {"field": "chance", "type": "quantitative"}}},
{"data": {"name": "pairs"}, "transform": [{"filter": "datum.p == 'LT'"}], "mark": {"type": "rule", "strokeDash": [6, 4], "strokeWidth": 1.5, "color": "black"}, "encoding": {"x": {"datum": 2}, "x2": {"datum": 3}, "y": {"field": "a", "type": "quantitative"}, "y2": {"field": "v"}, "opacity": {"field": "n", "type": "quantitative", "scale": {"domain": [1, 4], "range": [0.38, 0.95], "clamp": true}, "legend": null}}},
{"data": {"name": "pairs"}, "transform": [{"filter": "datum.p == 'LT'"}, {"aggregate": [{"op": "sum", "field": "n", "as": "tot"}], "groupby": ["a"]}], "mark": {"type": "point", "shape": "triangle-left", "filled": true, "color": "black", "size": 45, "opacity": 0.85, "xOffset": 4}, "encoding": {"x": {"datum": 2}, "y": {"field": "a", "type": "quantitative"}}},
{"data": {"name": "pairs"}, "transform": [{"filter": "datum.p == 'LT'"}, {"aggregate": [{"op": "sum", "field": "n", "as": "tot"}], "groupby": ["v"]}], "mark": {"type": "point", "shape": "M -1 -1 L 1 0 L -1 1", "filled": false, "color": "black", "strokeWidth": 1.5, "size": 60, "opacity": 0.85, "xOffset": -4}, "encoding": {"x": {"datum": 3}, "y": {"field": "v", "type": "quantitative"}}},
{"data": {"name": "means"}, "transform": [{"filter": "datum.p == 'LT' && datum.d == 'Audio + visual (exploratory)'"}], "mark": {"type": "point", "shape": "diamond", "filled": true, "color": "#de4f6b", "size": 150, "opacity": 1}, "encoding": {"x": {"datum": 1}, "y": {"field": "y", "type": "quantitative"}}},
{"data": {"name": "means"}, "transform": [{"filter": "datum.p == 'LT' && datum.d == 'Audio-only'"}], "mark": {"type": "point", "shape": "diamond", "filled": true, "color": "#de4f6b", "size": 150, "opacity": 1}, "encoding": {"x": {"datum": 2}, "y": {"field": "y", "type": "quantitative"}}},
{"data": {"name": "means"}, "transform": [{"filter": "datum.p == 'LT' && datum.d == 'Visual-only'"}], "mark": {"type": "point", "shape": "diamond", "filled": true, "color": "#de4f6b", "size": 150, "opacity": 1}, "encoding": {"x": {"datum": 3}, "y": {"field": "y", "type": "quantitative"}}}
]
},
{"width": 63, "height": 275, "data": {"values": []}, "mark": "point", "view": {"fill": null, "stroke": null}},
{
"width": 396, "height": 275,
"layer": [
{"data": {"name": "violin"}, "transform": [{"filter": "datum.p == 'HT'"}],
 "mark": {"type": "area", "orient": "horizontal", "fill": "white", "strokeWidth": 1.6, "interpolate": "monotone"},
 "encoding": {
  "y": {"field": "y", "type": "quantitative", "scale": {"domain": [-5, 105], "nice": false, "zero": false},
        "axis": {"values": [0, 12.5, 25, 37.5, 50, 62.5, 75, 87.5, 100], "labelExpr": "datum.value % 25 == 0 ? datum.label : ''", "grid": true, "gridWidth": {"condition": {"test": "datum.value % 25 != 0", "value": 0.8}, "value": 1.8}, "tickOpacity": {"condition": {"test": "datum.value % 25 != 0", "value": 0}, "value": 1}, "tickSize": 4, "labelFontSize": 16, "labelPadding": 3, "labelOverlap": false, "title": null}},
  "x": {"field": "lo", "type": "quantitative", "scale": {"domain": [0.4, 3.6], "nice": false, "zero": false},
        "axis": {"values": [1, 2, 3], "labels": false, "grid": true, "gridWidth": 1.8, "tickSize": 4, "title": null}},
  "x2": {"field": "hi"},
  "stroke": {"field": "d", "type": "nominal", "scale": {"domain": ["Audio + visual (exploratory)", "Audio-only", "Visual-only"], "range": ["#fc8d62", "#66c2a5", "#8da0cb"]}}
 }},
{"data": {"name": "dash"}, "transform": [{"filter": "datum.p == 'HT' && datum.d == 'Audio + visual (exploratory)'"}], "mark": {"type": "tick", "orient": "horizontal", "thickness": 1.5, "color": "#fc8d62"}, "encoding": {"x": {"datum": 1}, "y": {"field": "y", "type": "quantitative"}, "size": {"field": "n", "type": "quantitative", "scale": {"domain": [0, 20], "range": [0, 66]}, "legend": null}}},
{"data": {"name": "dash"}, "transform": [{"filter": "datum.p == 'HT' && datum.d == 'Audio-only'"}], "mark": {"type": "tick", "orient": "horizontal", "thickness": 1.5, "color": "#66c2a5"}, "encoding": {"x": {"datum": 2}, "y": {"field": "y", "type": "quantitative"}, "size": {"field": "n", "type": "quantitative", "scale": {"domain": [0, 20], "range": [0, 66]}, "legend": null}}},
{"data": {"name": "dash"}, "transform": [{"filter": "datum.p == 'HT' && datum.d == 'Visual-only'"}], "mark": {"type": "tick", "orient": "horizontal", "thickness": 1.5, "color": "#8da0cb"}, "encoding": {"x": {"datum": 3}, "y": {"field": "y", "type": "quantitative"}, "size": {"field": "n", "type": "quantitative", "scale": {"domain": [0, 20], "range": [0, 66]}, "legend": null}}},
{"data": {"values": [{"chance": 50}]}, "mark": {"type": "rule", "strokeDash": [2, 5], "color": "#333333", "strokeWidth": 1.5}, "encoding": {"y": {"field": "chance", "type": "quantitative"}}},
{"data": {"name": "pairs"}, "transform": [{"filter": "datum.p == 'HT'"}], "mark": {"type": "rule", "strokeDash": [6, 4], "strokeWidth": 1.5, "color": "black"}, "encoding": {"x": {"datum": 2}, "x2": {"datum": 3}, "y": {"field": "a", "type": "quantitative"}, "y2": {"field": "v"}, "opacity": {"field": "n", "type": "quantitative", "scale": {"domain": [1, 4], "range": [0.38, 0.95], "clamp": true}, "legend": null}}},
{"data": {"name": "pairs"}, "transform": [{"filter": "datum.p == 'HT'"}, {"aggregate": [{"op": "sum", "field": "n", "as": "tot"}], "groupby": ["a"]}], "mark": {"type": "point", "shape": "triangle-left", "filled": true, "color": "black", "size": 45, "opacity": 0.85, "xOffset": 4}, "encoding": {"x": {"datum": 2}, "y": {"field": "a", "type": "quantitative"}}},
{"data": {"name": "pairs"}, "transform": [{"filter": "datum.p == 'HT'"}, {"aggregate": [{"op": "sum", "field": "n", "as": "tot"}], "groupby": ["v"]}], "mark": {"type": "point", "shape": "M -1 -1 L 1 0 L -1 1", "filled": false, "color": "black", "strokeWidth": 1.5, "size": 60, "opacity": 0.85, "xOffset": -4}, "encoding": {"x": {"datum": 3}, "y": {"field": "v", "type": "quantitative"}}},
{"data": {"name": "means"}, "transform": [{"filter": "datum.p == 'HT' && datum.d == 'Audio + visual (exploratory)'"}], "mark": {"type": "point", "shape": "diamond", "filled": true, "color": "#de4f6b", "size": 150, "opacity": 1}, "encoding": {"x": {"datum": 1}, "y": {"field": "y", "type": "quantitative"}}},
{"data": {"name": "means"}, "transform": [{"filter": "datum.p == 'HT' && datum.d == 'Audio-only'"}], "mark": {"type": "point", "shape": "diamond", "filled": true, "color": "#de4f6b", "size": 150, "opacity": 1}, "encoding": {"x": {"datum": 2}, "y": {"field": "y", "type": "quantitative"}}},
{"data": {"name": "means"}, "transform": [{"filter": "datum.p == 'HT' && datum.d == 'Visual-only'"}], "mark": {"type": "point", "shape": "diamond", "filled": true, "color": "#de4f6b", "size": 150, "opacity": 1}, "encoding": {"x": {"datum": 3}, "y": {"field": "y", "type": "quantitative"}}}
]
},
{"width": 2, "height": 275, "data": {"values": [{"instrument": "Tsugaru\nshamisen"}]}, "mark": {"type": "text", "align": "left", "baseline": "middle", "dy": -18, "fontSize": 25, "lineBreak": "\n", "lineHeight": 37, "color": "black"}, "encoding": {"text": {"field": "instrument"}}, "view": {"fill": null, "stroke": null}}
]
},
{
"hconcat": [
{"width": 15, "height": 257, "data": {"values": []}, "mark": "point", "view": {"fill": null, "stroke": null}, "title": {"text": "b", "anchor": "start", "fontSize": 26, "offset": 30, "dx": -42}},
{
"width": 443, "height": 257,
"title": {"text": "Piano", "fontSize": 29, "offset": 5},
"layer": [
{"data": {"values": [{"chance": 0.5}]}, "mark": {"type": "rule", "strokeDash": [1.5, 3.5], "color": "#555555", "strokeWidth": 1.2}, "encoding": {"y": {"field": "chance", "type": "quantitative"}}},
{"data": {"name": "effects"}, "transform": [{"filter": "datum.inst == 'Piano'"}], "mark": {"type": "rule", "strokeWidth": 1.6},
 "encoding": {
  "x": {"field": "cond", "type": "nominal", "scale": {"type": "band", "domain": ["Audio-only", "Visual-only"], "paddingInner": 0.802, "paddingOuter": 0.495}, "axis": {"title": null, "labelFontSize": 15.5, "labelPadding": 3, "tickSize": 4, "grid": true, "gridWidth": 1.5, "labelAngle": 0}},
  "xOffset": {"field": "g", "type": "nominal", "scale": {"domain": ["high-variance", "low-variance"]}},
  "y": {"field": "lo", "type": "quantitative", "scale": {"domain": [-0.05, 1.05], "nice": false, "zero": false},
        "axis": {"values": [0, 0.125, 0.25, 0.375, 0.5, 0.625, 0.75, 0.875, 1], "labelExpr": "(datum.value * 4) % 1 == 0 ? format(datum.value, '.2f') : ''", "grid": true, "gridWidth": {"condition": {"test": "(datum.value * 4) % 1 != 0", "value": 0.7}, "value": 1.4}, "tickOpacity": {"condition": {"test": "(datum.value * 4) % 1 != 0", "value": 0}, "value": 1}, "labelFontSize": 11.5, "labelPadding": 3, "tickSize": 4, "labelOverlap": false, "title": "Relative Effects", "titleFontSize": 18, "titlePadding": 6, "minExtent": 30, "maxExtent": 30}},
  "y2": {"field": "hi"},
  "color": {"field": "g", "type": "nominal", "scale": {"domain": ["high-variance", "low-variance"], "range": ["#3db58f", "#e07b34"]},
    "legend": {"title": null, "orient": "none", "legendX": 100, "legendY": 318, "direction": "horizontal", "labelFontSize": 17, "labelColor": "black", "symbolType": "stroke", "symbolStrokeWidth": 2, "symbolSize": 300, "labelOffset": 6, "columnPadding": 6}}
 }},
{"data": {"name": "effects"}, "transform": [{"filter": "datum.inst == 'Piano'"}], "mark": {"type": "tick", "orient": "horizontal", "size": 19, "thickness": 1.6}, "encoding": {"x": {"field": "cond", "type": "nominal"}, "xOffset": {"field": "g", "type": "nominal"}, "y": {"field": "lo", "type": "quantitative"}, "color": {"field": "g", "type": "nominal"}}},
{"data": {"name": "effects"}, "transform": [{"filter": "datum.inst == 'Piano'"}], "mark": {"type": "tick", "orient": "horizontal", "size": 19, "thickness": 1.6}, "encoding": {"x": {"field": "cond", "type": "nominal"}, "xOffset": {"field": "g", "type": "nominal"}, "y": {"field": "hi", "type": "quantitative"}, "color": {"field": "g", "type": "nominal"}}},
{"data": {"name": "effects"}, "transform": [{"filter": "datum.inst == 'Piano'"}], "mark": {"type": "line", "strokeWidth": 1.6}, "encoding": {"x": {"field": "cond", "type": "nominal"}, "xOffset": {"field": "g", "type": "nominal"}, "y": {"field": "m", "type": "quantitative"}, "color": {"field": "g", "type": "nominal"}}},
{"data": {"name": "effects"}, "transform": [{"filter": "datum.inst == 'Piano'"}], "mark": {"type": "point", "shape": "square", "filled": true, "size": 22, "opacity": 1}, "encoding": {"x": {"field": "cond", "type": "nominal"}, "xOffset": {"field": "g", "type": "nominal"}, "y": {"field": "m", "type": "quantitative"}, "fill": {"field": "g", "type": "nominal", "scale": {"domain": ["high-variance", "low-variance"], "range": ["#c9826d", "#2a9d84"]}, "legend": null}}}
]
},
{"width": 122, "height": 257, "data": {"values": []}, "mark": "point", "view": {"fill": null, "stroke": null}, "title": {"text": "c", "anchor": "start", "fontSize": 26, "offset": 30, "dx": 65}},
{
"width": 444, "height": 257,
"title": {"text": "Tsugaru-shamisen", "fontSize": 29, "offset": 5},
"layer": [
{"data": {"values": [{"chance": 0.5}]}, "mark": {"type": "rule", "strokeDash": [1.5, 3.5], "color": "#555555", "strokeWidth": 1.2}, "encoding": {"y": {"field": "chance", "type": "quantitative"}}},
{"data": {"name": "effects"}, "transform": [{"filter": "datum.inst == 'Tsugaru-shamisen'"}], "mark": {"type": "rule", "strokeWidth": 1.6},
 "encoding": {
  "x": {"field": "cond", "type": "nominal", "scale": {"type": "band", "domain": ["Audio-only", "Visual-only"], "paddingInner": 0.802, "paddingOuter": 0.495}, "axis": {"title": null, "labelFontSize": 15.5, "labelPadding": 3, "tickSize": 4, "grid": true, "gridWidth": 1.5, "labelAngle": 0}},
  "xOffset": {"field": "g", "type": "nominal", "scale": {"domain": ["high-variance", "low-variance"]}},
  "y": {"field": "lo", "type": "quantitative", "scale": {"domain": [-0.05, 1.05], "nice": false, "zero": false},
        "axis": {"values": [0, 0.125, 0.25, 0.375, 0.5, 0.625, 0.75, 0.875, 1], "labelExpr": "(datum.value * 4) % 1 == 0 ? format(datum.value, '.2f') : ''", "grid": true, "gridWidth": {"condition": {"test": "(datum.value * 4) % 1 != 0", "value": 0.7}, "value": 1.4}, "tickOpacity": {"condition": {"test": "(datum.value * 4) % 1 != 0", "value": 0}, "value": 1}, "labelFontSize": 11.5, "labelPadding": 3, "tickSize": 4, "labelOverlap": false, "title": "Relative Effects", "titleFontSize": 18, "titlePadding": 6, "minExtent": 30, "maxExtent": 30}},
  "y2": {"field": "hi"},
  "color": {"field": "g", "type": "nominal", "scale": {"domain": ["high-variance", "low-variance"], "range": ["#3db58f", "#e07b34"]},
    "legend": {"title": null, "orient": "none", "legendX": 100, "legendY": 318, "direction": "horizontal", "labelFontSize": 17, "labelColor": "black", "symbolType": "stroke", "symbolStrokeWidth": 2, "symbolSize": 300, "labelOffset": 6, "columnPadding": 6}}
 }},
{"data": {"name": "effects"}, "transform": [{"filter": "datum.inst == 'Tsugaru-shamisen'"}], "mark": {"type": "tick", "orient": "horizontal", "size": 19, "thickness": 1.6}, "encoding": {"x": {"field": "cond", "type": "nominal"}, "xOffset": {"field": "g", "type": "nominal"}, "y": {"field": "lo", "type": "quantitative"}, "color": {"field": "g", "type": "nominal"}}},
{"data": {"name": "effects"}, "transform": [{"filter": "datum.inst == 'Tsugaru-shamisen'"}], "mark": {"type": "tick", "orient": "horizontal", "size": 19, "thickness": 1.6}, "encoding": {"x": {"field": "cond", "type": "nominal"}, "xOffset": {"field": "g", "type": "nominal"}, "y": {"field": "hi", "type": "quantitative"}, "color": {"field": "g", "type": "nominal"}}},
{"data": {"name": "effects"}, "transform": [{"filter": "datum.inst == 'Tsugaru-shamisen'"}], "mark": {"type": "line", "strokeWidth": 1.6}, "encoding": {"x": {"field": "cond", "type": "nominal"}, "xOffset": {"field": "g", "type": "nominal"}, "y": {"field": "m", "type": "quantitative"}, "color": {"field": "g", "type": "nominal"}}},
{"data": {"name": "effects"}, "transform": [{"filter": "datum.inst == 'Tsugaru-shamisen'"}], "mark": {"type": "point", "shape": "square", "filled": true, "size": 22, "opacity": 1}, "encoding": {"x": {"field": "cond", "type": "nominal"}, "xOffset": {"field": "g", "type": "nominal"}, "y": {"field": "m", "type": "quantitative"}, "fill": {"field": "g", "type": "nominal", "scale": {"domain": ["high-variance", "low-variance"], "range": ["#c9826d", "#2a9d84"]}, "legend": null}}}
]
}
],
"bounds": "flush",
"spacing": 0,
"resolve": {"scale": {"color": "independent", "fill": "independent"}, "legend": {"color": "independent", "fill": "independent"}}
}
],
"spacing": 93,
"resolve": {"scale": {"color": "independent", "fill": "independent"}, "legend": {"color": "independent", "fill": "independent"}},
"config": {
"font": "Liberation Sans",
"background": "white",
"view": {"fill": "#ebebeb", "stroke": null},
"axis": {"domain": false, "tickColor": "#333333", "labelColor": "#4d4d4d", "titleColor": "black", "titleFontWeight": "normal", "gridColor": "white"},
"title": {"fontWeight": "normal", "color": "black"},
"legend": {"titleFontWeight": "normal"}
}
}
